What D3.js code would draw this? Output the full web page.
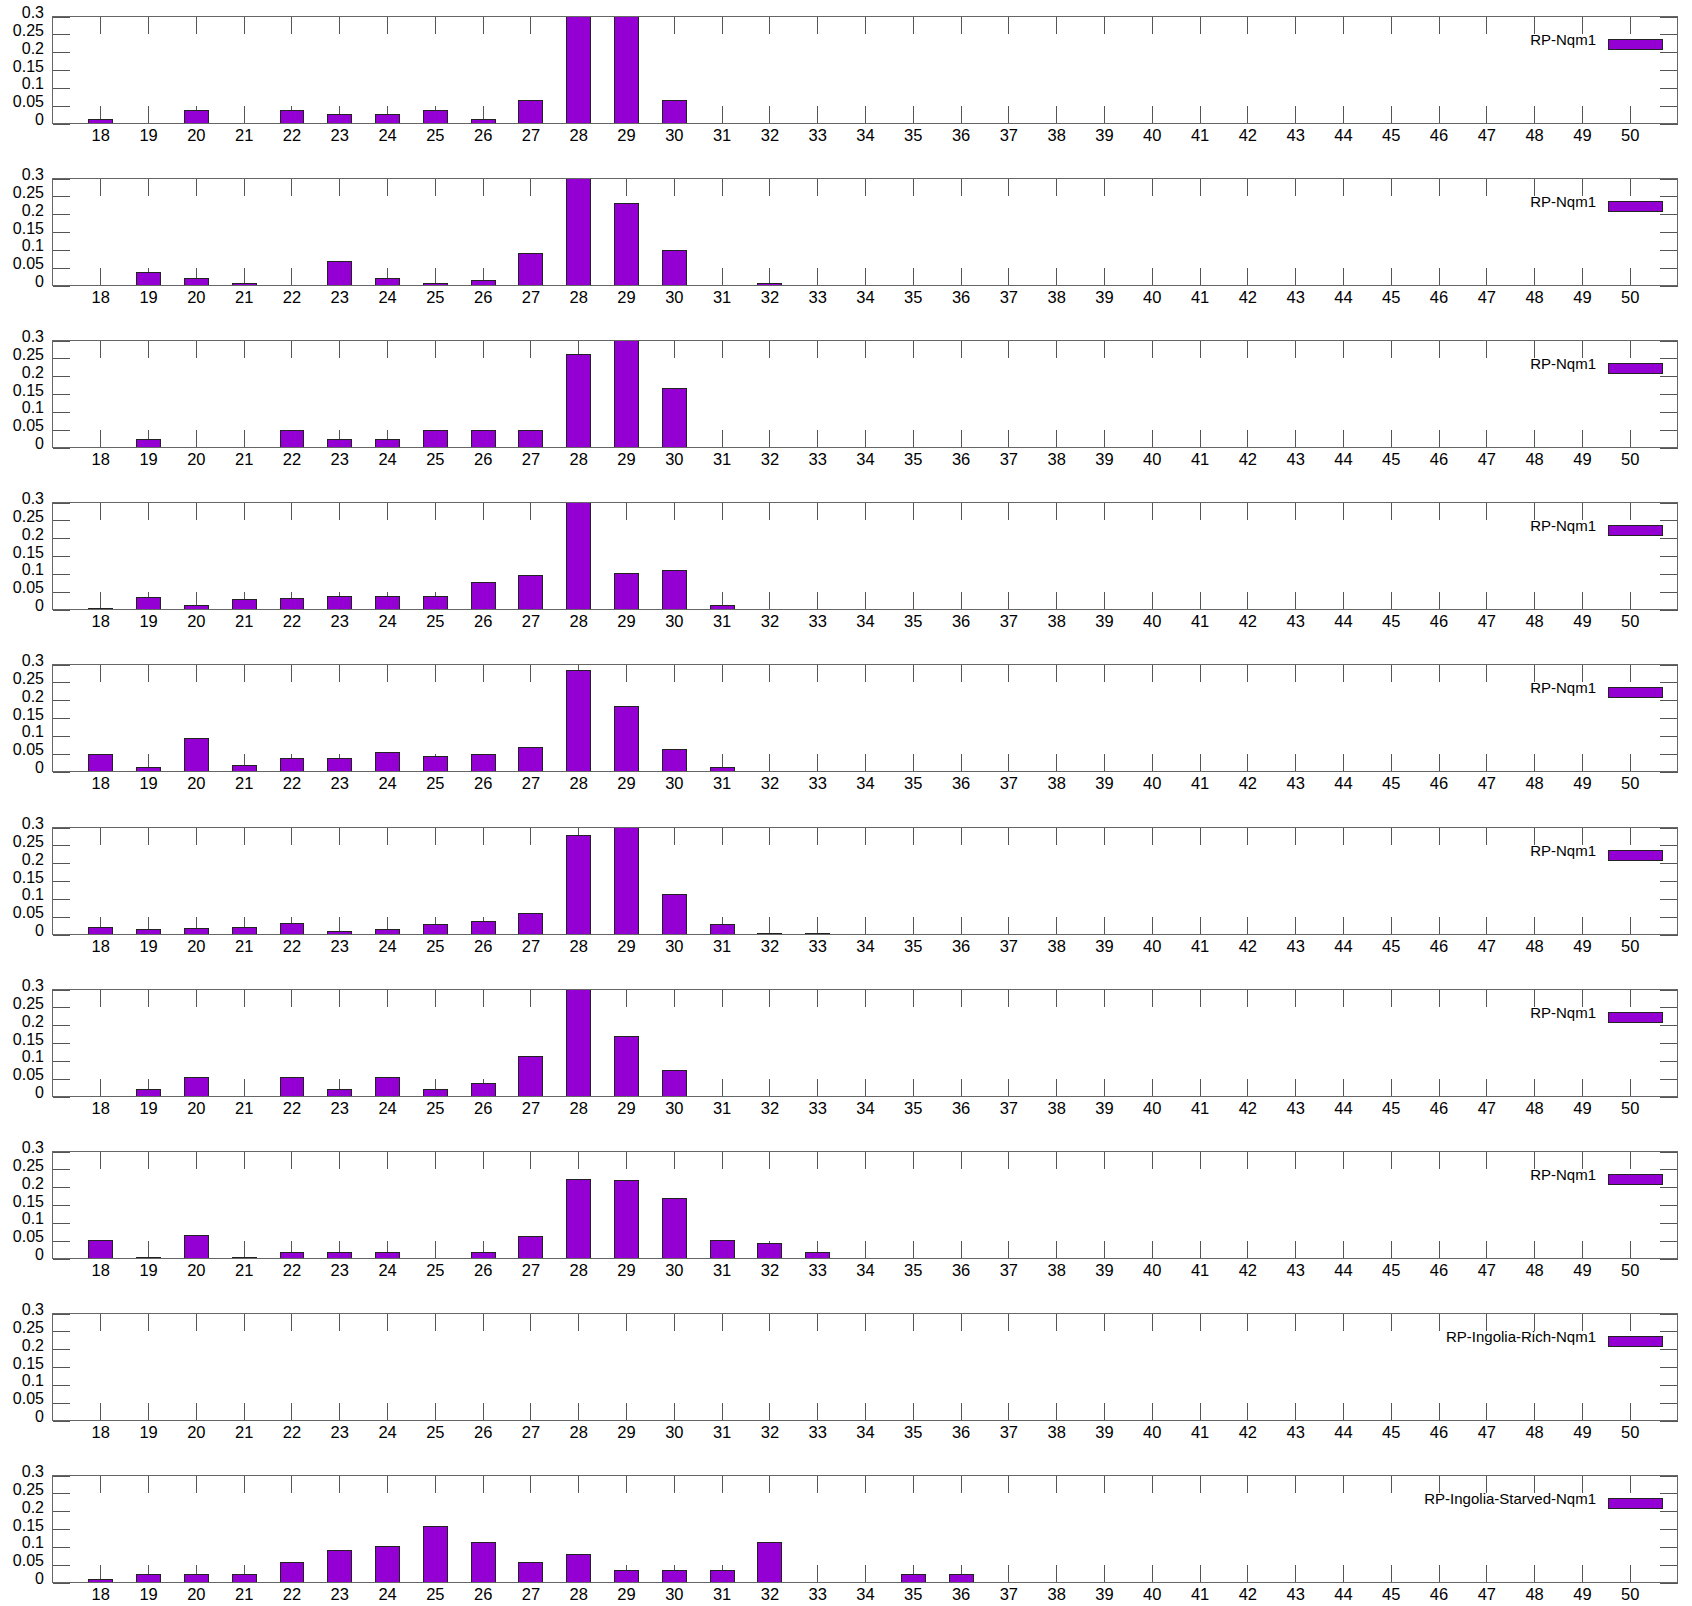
<!DOCTYPE html>
<html>
<head>
<meta charset="utf-8">
<script src="https://cdn.jsdelivr.net/npm/d3@7"></script>
<style>
  html, body { margin: 0; padding: 0; background: #fff; }
  svg { display: block; }
  text { font-family: "Liberation Sans", Arial, sans-serif; fill: #000; }
</style>
</head>
<body>
<div id="chart"></div>
<script>
// Read-length distribution (fraction of reads) per sample, lengths 18..50
const lengths = d3.range(18, 51);
const yTicks = [0, 0.05, 0.1, 0.15, 0.2, 0.25, 0.3];
const yTickLabels = ["0", "0.05", "0.1", "0.15", "0.2", "0.25", "0.3"];

const seriesNames = [
  "RP-Nqm1", "RP-Nqm1", "RP-Nqm1", "RP-Nqm1", "RP-Nqm1",
  "RP-Nqm1", "RP-Nqm1", "RP-Nqm1", "RP-Ingolia-Rich-Nqm1", "RP-Ingolia-Starved-Nqm1"
];

// values for lengths 18..36 (longer lengths are zero)
const sample1  = [0.013, 0, 0.039, 0, 0.039, 0.026, 0.026, 0.039, 0.013, 0.065, 0.34, 0.335, 0.065, 0, 0, 0, 0, 0, 0];
const sample2  = [0, 0.037, 0.022, 0.0075, 0, 0.069, 0.022, 0.0075, 0.015, 0.09, 0.39, 0.23, 0.1, 0, 0.0075, 0, 0, 0, 0];
const sample3  = [0, 0.024, 0, 0, 0.0486, 0.024, 0.024, 0.0486, 0.0486, 0.0486, 0.2626, 0.305, 0.166, 0, 0, 0, 0, 0, 0];
const sample4  = [0.002, 0.0353, 0.013, 0.0298, 0.033, 0.0386, 0.0386, 0.0386, 0.077, 0.096, 0.37, 0.1037, 0.111, 0.012, 0, 0, 0, 0, 0];
const sample5  = [0.0487, 0.0133, 0.093, 0.0177, 0.0376, 0.0376, 0.0553, 0.0443, 0.0487, 0.0686, 0.2834, 0.185, 0.062, 0.0133, 0, 0, 0, 0, 0];
const sample6  = [0.022, 0.0144, 0.0188, 0.022, 0.031, 0.011, 0.0144, 0.0288, 0.0365, 0.06, 0.278, 0.315, 0.114, 0.03, 0.002, 0.002, 0, 0, 0];
const sample7  = [0, 0.02, 0.054, 0, 0.054, 0.02, 0.054, 0.02, 0.0386, 0.1136, 0.38, 0.17, 0.075, 0, 0, 0, 0, 0, 0];
const sample8  = [0.053, 0.0046, 0.066, 0.0046, 0.0186, 0.0186, 0.0186, 0, 0.0186, 0.0622, 0.2238, 0.219, 0.171, 0.053, 0.0427, 0.0186, 0, 0, 0];
const sample9  = [0, 0, 0, 0, 0, 0, 0, 0, 0, 0, 0, 0, 0, 0, 0, 0, 0, 0, 0];
const sample10 = [0.011, 0.0232, 0.0232, 0.0232, 0.0567, 0.091, 0.103, 0.159, 0.114, 0.0567, 0.081, 0.0344, 0.0344, 0.0344, 0.114, 0, 0, 0.0232, 0.0232];

const samples = [sample1, sample2, sample3, sample4, sample5, sample6, sample7, sample8, sample9, sample10];

const W = 1692, H = 1606;
const left = 52.5, right = 1677.5;
const panelTop0 = 16, panelStep = 162.2, panelH = 107.3;
const tickLen = 17.5;
const barColor = "#9400d3";

const svg = d3.select("#chart").append("svg")
  .attr("width", W).attr("height", H);
svg.append("rect").attr("width", W).attr("height", H).attr("fill", "#fff");

const x = d3.scaleLinear().domain([17, 51]).range([left, right]);

samples.forEach((vals, i) => {
  const top = Math.floor(panelTop0 + i * panelStep) + 0.5;
  const bottom = Math.round(top + panelH - 0.5) + 0.5;
  const y = d3.scaleLinear().domain([0, 0.3]).range([bottom, top]);
  const g = svg.append("g");

  const clipId = "clip" + i;
  svg.append("clipPath").attr("id", clipId)
    .append("rect").attr("x", left).attr("y", top).attr("width", right - left).attr("height", bottom - top);

  // tick marks (mirrored on all four sides)
  const tg = g.append("g").attr("stroke", "#555").attr("stroke-width", 1).attr("shape-rendering", "crispEdges");
  lengths.forEach(l => {
    const xp = Math.round(x(l)) + 0.5;
    tg.append("line").attr("x1", xp).attr("x2", xp).attr("y1", bottom).attr("y2", bottom - tickLen);
    tg.append("line").attr("x1", xp).attr("x2", xp).attr("y1", top).attr("y2", top + tickLen);
  });
  yTicks.forEach(t => {
    const yp = Math.round(y(t)) + 0.5;
    tg.append("line").attr("x1", left).attr("x2", left + tickLen).attr("y1", yp).attr("y2", yp);
    tg.append("line").attr("x1", right).attr("x2", right - tickLen).attr("y1", yp).attr("y2", yp);
  });

  // bars, clipped at the top of the plot; very small values keep a visible top edge
  const data = lengths.map((l, k) => ({ len: l, v: k < vals.length ? vals[k] : 0 })).filter(d => d.v > 0);
  const yTop = d => Math.min(bottom - 1, Math.round(Math.max(y(d.v), top - 2)) + 0.5);
  g.append("g").attr("clip-path", `url(#${clipId})`)
    .selectAll("rect").data(data).join("rect")
    .attr("x", d => Math.round(x(d.len - 0.25)) + 0.5)
    .attr("width", d => Math.round(x(d.len + 0.25)) - Math.round(x(d.len - 0.25)))
    .attr("y", yTop)
    .attr("height", d => bottom - yTop(d))
    .attr("fill", barColor)
    .attr("stroke", "#222")
    .attr("stroke-width", 1)
    .attr("shape-rendering", "crispEdges");

  // plot border
  g.append("rect").attr("x", left).attr("y", top)
    .attr("width", right - left).attr("height", bottom - top)
    .attr("fill", "none").attr("stroke", "#666").attr("stroke-width", 1)
    .attr("shape-rendering", "crispEdges");

  // y tick labels
  g.append("g").selectAll("text").data(yTicks).join("text")
    .attr("x", 44)
    .attr("y", d => y(d) + 1.5)
    .attr("text-anchor", "end")
    .attr("font-size", 16)
    .text((d, k) => yTickLabels[k]);

  // x tick labels
  g.append("g").selectAll("text").data(lengths).join("text")
    .attr("x", d => x(d) + 0.5)
    .attr("y", bottom + 17.5)
    .attr("text-anchor", "middle")
    .attr("font-size", 16.5)
    .text(d => d);

  // legend
  g.append("text")
    .attr("x", 1596)
    .attr("y", top + 28.5)
    .attr("text-anchor", "end")
    .attr("font-size", 15)
    .text(seriesNames[i]);
  g.append("rect")
    .attr("x", 1608.5).attr("y", top + 23)
    .attr("width", 54).attr("height", 10)
    .attr("fill", barColor).attr("stroke", "#222").attr("stroke-width", 1)
    .attr("shape-rendering", "crispEdges");
});
</script>
</body>
</html>
